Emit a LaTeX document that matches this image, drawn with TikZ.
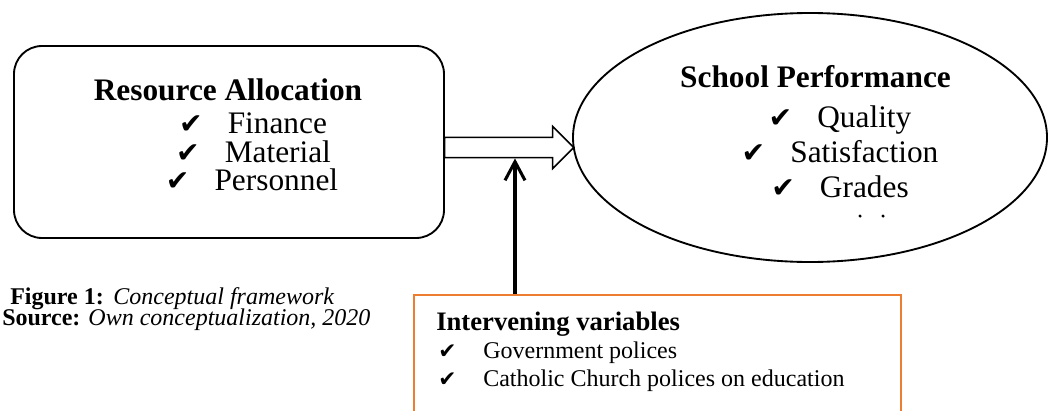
\documentclass[tikz,border=0pt]{standalone}
\usepackage{fontspec}
\setmainfont{Liberation Serif}
\newfontfamily\symfont{DejaVu Sans}[Scale=0.9]
\usepackage{xcolor}
\usepackage{tikz}
\usetikzlibrary{shapes.geometric, shapes.arrows, arrows.meta, positioning}
\definecolor{accentorange}{RGB}{237, 125, 49}
\definecolor{darkgray}{RGB}{0, 0, 0}
\newcommand{\chk}{{\symfont ✔}}
\newcommand{\bigfont}{\fontsize{23.5}{28}\selectfont}
\newcommand{\midfont}{\fontsize{20}{24}\selectfont}
\newcommand{\smallfont}{\fontsize{18}{21}\selectfont}
\tikzset{
  mainbox/.style={rectangle, rounded corners=21pt, draw=darkgray, line width=1.4pt,
              minimum width=322.5pt, minimum height=144pt},
  outcome/.style={ellipse, draw=darkgray, line width=1.4pt, inner sep=0pt,
              minimum width=355.5pt, minimum height=186.75pt},
  flowarrow/.style={single arrow, draw=darkgray, line width=1.1pt, fill=white,
              inner xsep=0pt, inner ysep=7.1pt, minimum height=96.75pt,
              single arrow head extend=8.25pt},
  varbox/.style={rectangle, draw=accentorange, line width=1.5pt,
              minimum width=365.25pt, minimum height=105pt},
  heading/.style={font=\bigfont\bfseries, anchor=base, inner sep=0pt},
  item/.style={font=\bigfont, anchor=base, inner sep=0pt},
  note/.style={font=\smallfont, anchor=base west, inner sep=0pt},
  dotmark/.style={circle, fill=darkgray, inner sep=0pt, minimum size=2.6pt},
  arrow/.style={-{Straight Barb[length=14pt, width=15pt]}, line width=2.3pt, color=darkgray},
}
\begin{document}
\begin{tikzpicture}[x=0.75pt, y=-0.75pt]
  \clip (0,0) rectangle (1048,410);
  \node[mainbox] (alloc) at (229,142) {};
  \node[outcome] (perf) at (810,137.5) {};
  \node[flowarrow, anchor=tail] (flow) at (444,147.5) {};
  \node[varbox, anchor=north] (inter) at (657.5,294) {};

  \node[heading] (allochead) at (228,100) {Resource Allocation};
  \node[item] (finance) at (253,133) {\chk\hspace{0.8em}Finance};
  \node[item] (material) at (253.5,162) {\chk\hspace{0.8em}Material};
  \node[item] (personnel) at (252,190) {\chk\hspace{0.8em}Personnel};

  \node[heading] (perfhead) at (815.5,88) {School Performance};
  \node[item] (quality) at (840,127) {\chk\hspace{0.8em}Quality};
  \node[item] (satisf) at (840,162) {\chk\hspace{0.8em}Satisfaction};
  \node[item] (grades) at (840,197) {\chk\hspace{0.8em}Grades};
  \node[dotmark] (dotA) at (860,216) {};
  \node[dotmark] (dotB) at (883,216) {};

  \node[note] (figcap) at (10,304) {\textbf{Figure 1:}\hspace{0.4em}\textit{Conceptual framework}};
  \node[note] (source) at (2,325) {\textbf{Source:} \textit{Own conceptualization, 2020}};

  \node[font=\midfont\bfseries, anchor=base west, inner sep=0pt] (interhead) at (436,330)
       {Intervening variables};
  \node[note] (gov) at (438,358) {\makebox[33.75pt][l]{\chk}Government polices};
  \node[note] (church) at (438,386) {\makebox[33.75pt][l]{\chk}Catholic Church polices on education};

  \coordinate (join) at (515,0);
  \draw[arrow] (inter.north -| join) -- (flow.south -| join);
\end{tikzpicture}
\end{document}
